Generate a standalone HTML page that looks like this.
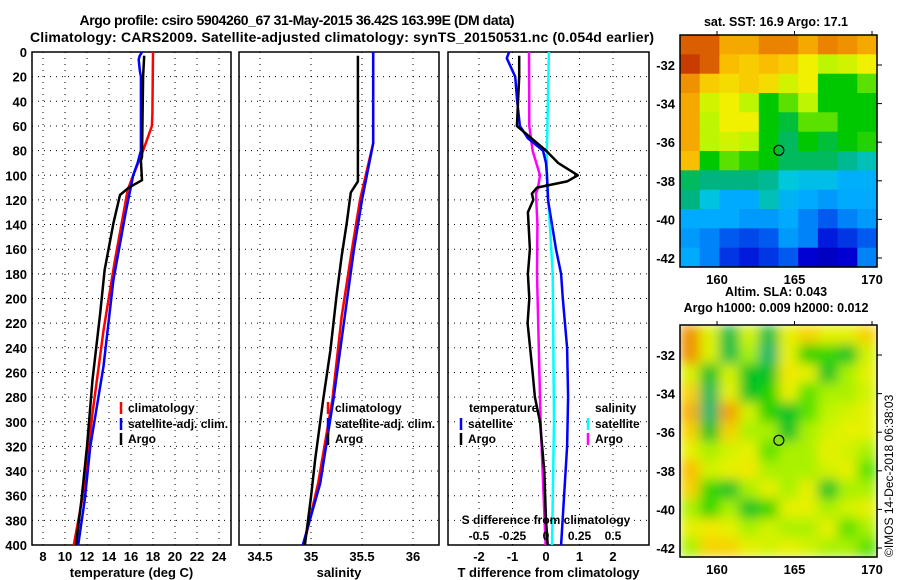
<!DOCTYPE html>
<html><head><meta charset="utf-8"><style>
html,body{margin:0;padding:0;background:#fff;}
svg{display:block;font-family:"Liberation Sans",Arial,sans-serif;font-weight:bold;}
</style></head><body>
<svg id="fig" width="900" height="580" viewBox="0 0 900 580">
<text x="297" y="25" font-size="14" text-anchor="middle" textLength="435">Argo profile: csiro 5904260_67 31-May-2015 36.42S 163.99E (DM data)</text>
<text x="342" y="42" font-size="14" text-anchor="middle" textLength="624">Climatology: CARS2009. Satellite-adjusted climatology: synTS_20150531.nc (0.054d earlier)</text>
<g id="plots"></g>
</svg>
<script>
// ---- data ----
const depthTicks = [0,20,40,60,80,100,120,140,160,180,200,220,240,260,280,300,320,340,360,380,400];
const tTicks = [8,10,12,14,16,18,20,22,24];
const sTicks = [34.5,35,35.5,36];
const dTTicks = [-2,-1,0,1,2];
const dSTicks = [-0.5,-0.25,0,0.25,0.5];
const dSTickLabels = ["-0.5","-0.25","0","0.25","0.5"];

const climT_depth = [0,50,60,70,80,100,112,171,226,293,361,400];
const climT = [18.0,17.95,17.9,17.5,17.1,16.2,15.7,14.5,13.5,12.5,11.6,10.8];
const satT_depth = [0,3,6,15,20,80,90,100,131,185,255,320,363,400];
const satT = [17.0,16.8,16.7,16.8,16.9,16.9,16.6,16.2,15.5,14.4,13.5,12.3,11.8,11.2];
const argoT_depth = [3,20,85,88,104,110,116,139,177,212,266,320,363,400];
const argoT = [17.2,17.1,17.0,16.9,17.0,15.8,15.0,14.4,13.6,13.2,12.5,12.0,11.5,11.0];

const climS_depth = [0,74,120,161,215,282,350,400];
const climS = [35.61,35.61,35.48,35.40,35.30,35.21,35.07,34.93];
const satS_depth = [0,74,120,161,215,282,350,400];
const satS = [35.61,35.61,35.5,35.42,35.33,35.22,35.09,34.92];
const argoS_depth = [3,105,114,139,166,198,242,282,331,361,400];
const argoS = [35.46,35.46,35.39,35.35,35.30,35.25,35.19,35.12,35.04,35.0,34.94];

const dTsat_depth = [0,5,20,40,60,70,80,90,100,120,140,160,180,200,240,280,320,360,400];
const dTsat = [-1.1,-1.17,-0.92,-0.86,-0.78,-0.54,-0.09,0.0,0.03,0.06,0.18,0.3,0.45,0.5,0.63,0.66,0.63,0.54,0.45];
const dTargo_depth = [3,20,60,80,90,100,105,110,115,120,130,160,180,200,220,260,280,300,340,380,400];
const dTargo = [-0.8,-0.8,-0.87,0.0,0.36,0.95,0.63,-0.27,-0.42,-0.38,-0.54,-0.48,-0.54,-0.5,-0.55,-0.4,-0.33,-0.18,-0.05,0.0,0.05];
const dSargo_depth = [0,60,80,100,110,115,140,180,300,400];
const dSargo = [-0.127,-0.125,-0.1,-0.045,-0.06,-0.075,-0.064,-0.067,-0.04,-0.003];
const dSsat_depth = [0,80,100,180,300,400];
const dSsat = [0.022,0.007,0.007,0.05,0.06,0.045];

const sstGrid = [
[0.85,0.85,0.75,0.75,0.8,0.8,0.75,0.8,0.78,0.75],
[0.9,0.85,0.72,0.7,0.72,0.7,0.65,0.6,0.62,0.65],
[0.78,0.7,0.68,0.7,0.68,0.62,0.65,0.5,0.5,0.55],
[0.75,0.62,0.65,0.6,0.5,0.55,0.6,0.5,0.5,0.5],
[0.75,0.6,0.65,0.65,0.5,0.47,0.55,0.55,0.5,0.5],
[0.75,0.6,0.62,0.6,0.5,0.45,0.5,0.47,0.5,0.52],
[0.72,0.5,0.55,0.52,0.5,0.45,0.45,0.45,0.42,0.4],
[0.45,0.43,0.43,0.43,0.42,0.38,0.36,0.36,0.33,0.33],
[0.43,0.37,0.32,0.32,0.4,0.34,0.32,0.3,0.32,0.32],
[0.32,0.32,0.32,0.3,0.3,0.32,0.27,0.22,0.27,0.3],
[0.3,0.27,0.22,0.2,0.22,0.3,0.27,0.15,0.18,0.22],
[0.32,0.27,0.18,0.15,0.18,0.22,0.12,0.1,0.12,0.27]];
const slaGrid = [
[0.78,0.63,0.46,0.62,0.46,0.64,0.69,0.64,0.64,0.69],
[0.78,0.63,0.46,0.59,0.44,0.64,0.52,0.53,0.48,0.62],
[0.63,0.48,0.62,0.48,0.48,0.66,0.64,0.48,0.59,0.64],
[0.69,0.45,0.64,0.48,0.52,0.64,0.55,0.59,0.59,0.62],
[0.74,0.44,0.76,0.62,0.52,0.48,0.55,0.6,0.62,0.64],
[0.69,0.48,0.69,0.59,0.59,0.48,0.59,0.62,0.64,0.64],
[0.64,0.59,0.62,0.64,0.55,0.59,0.59,0.64,0.62,0.59],
[0.72,0.62,0.64,0.66,0.59,0.59,0.59,0.62,0.64,0.55],
[0.69,0.53,0.48,0.59,0.64,0.59,0.64,0.48,0.59,0.59],
[0.59,0.53,0.59,0.48,0.53,0.64,0.64,0.59,0.62,0.64],
[0.64,0.66,0.64,0.59,0.62,0.59,0.59,0.64,0.55,0.59],
[0.59,0.69,0.69,0.64,0.62,0.64,0.62,0.59,0.59,0.55]];
const lonTicks = [160,165,170];
const latTicks = [-32,-34,-36,-38,-40,-42];
const argoLon = 163.99, argoLat = -36.42;

// ---- helpers ----
const NS = "http://www.w3.org/2000/svg";
const root = document.getElementById('plots');
function mk(tag, attrs, parent){const e=document.createElementNS(NS,tag);for(const k in attrs)e.setAttribute(k,attrs[k]);(parent||root).appendChild(e);return e;}
const yTop=52, yBot=545;
const yD = d => yTop + (d/400)*(yBot-yTop);
function linScale(d0,d1,r0,r1){return v=>r0+(v-d0)/(d1-d0)*(r1-r0);}

function panel(name,x0,x1,xs,xt,xlabels,title){
  const g=mk('g',{});
  
  
  depthTicks.forEach(d=>{ if(d>0&&d<400){const l=mk('line',{x1:x0,x2:x1,y1:yD(d),y2:yD(d),stroke:'#000','stroke-width':1,'stroke-dasharray':'1,5'},g);
    
    }});
  xt.forEach((v,i)=>{const x=xs(v);
    const l=mk('line',{x1:x,x2:x,y1:yTop,y2:yBot,stroke:'#000','stroke-width':1,'stroke-dasharray':'1,5'},g);
    
    
    const t=mk('text',{x:x,y:561,'font-size':13,'text-anchor':'middle'},g);t.textContent=xlabels[i];
    
    });
  const r=mk('rect',{x:x0,y:yTop,width:x1-x0,height:yBot-yTop,fill:'none',stroke:'#000','stroke-width':1.5},g);
  
  
  const t=mk('text',{x:(x0+x1)/2,y:577,'font-size':13,'text-anchor':'middle'},g);t.textContent=title;
  
  
  return g;
}
function series(g,depths,vals,xs,color,w,name){
  const pts=depths.map((d,i)=>xs(vals[i]).toFixed(1)+','+yD(d).toFixed(1)).join(' ');
  const p=mk('polyline',{points:pts,fill:'none',stroke:color,'stroke-width':w,'stroke-linejoin':'round'},g);
  
  
}
function legend(g,x,y,color,label){
  if(color){const b=mk('line',{x1:x-7,x2:x-7,y1:y-10,y2:y+2,stroke:color,'stroke-width':2.5},g);
    
    }
  const t=mk('text',{x:x,y:y,'font-size':12},g);t.textContent=label;
  
  
}

depthTicks.forEach(d=>{const t=mk('text',{x:27,y:yD(d)+5,'font-size':13,'text-anchor':'end'});t.textContent=d;
  
  });

const xT=linScale(8,24,43,219);
const g1=panel('temperature-panel',32,231,xT,tTicks,tTicks.map(String),'temperature (deg C)');
series(g1,climT_depth,climT,xT,'#f00',2.5,'climatology-temperature-line');
series(g1,satT_depth,satT,xT,'#00f',2.5,'satellite-temperature-line');
series(g1,argoT_depth,argoT,xT,'#000',2.5,'argo-temperature-line');
legend(g1,128,412,'#f00','climatology');legend(g1,128,428,'#00f','satellite-adj. clim.');legend(g1,128,443,'#000','Argo');

const xS=linScale(34.5,36,260,413);
const g2=panel('salinity-panel',239,439,xS,sTicks,['34.5','35','35.5','36'],'salinity');
series(g2,climS_depth,climS,xS,'#f00',2.5,'climatology-salinity-line');
series(g2,satS_depth,satS,xS,'#00f',2.5,'satellite-salinity-line');
series(g2,argoS_depth,argoS,xS,'#000',2.5,'argo-salinity-line');
legend(g2,335,412,'#f00','climatology');legend(g2,335,428,'#00f','satellite-adj. clim.');legend(g2,335,443,'#000','Argo');

const xdT=linScale(-2,2,479,613);
const xdS=linScale(-0.5,0.5,479,613);
const g3=panel('difference-panel',448,649,xdT,dTTicks,dTTicks.map(String),'T difference from climatology');
series(g3,dSsat_depth,dSsat,xdS,'#0ff',2.5,'salinity-satellite-diff-line');
series(g3,dSargo_depth,dSargo,xdS,'#f0f',2.5,'salinity-argo-diff-line');
series(g3,dTsat_depth,dTsat,xdT,'#00f',2.5,'temperature-satellite-diff-line');
series(g3,dTargo_depth,dTargo,xdT,'#000',2.5,'temperature-argo-diff-line');
legend(g3,469,412,null,'temperature');legend(g3,468,428,'#00f','satellite');legend(g3,468,443,'#000','Argo');
legend(g3,595,412,null,'salinity');legend(g3,595,428,'#0ff','satellite');legend(g3,595,443,'#f0f','Argo');
{const t=mk('text',{x:546,y:524,'font-size':12,'text-anchor':'middle'},g3);t.textContent='S difference from climatology';
 
 
 dSTicks.forEach((v,i)=>{const u=mk('text',{x:xdS(v),y:540,'font-size':12,'text-anchor':'middle'},g3);u.textContent=dSTickLabels[i];
  
  });}

const cmStops=[[0,0,0,120],[0.12,0,0,210],[0.22,0,90,240],[0.32,0,170,255],[0.38,0,200,220],[0.43,0,180,130],[0.5,0,200,0],[0.55,90,225,0],[0.6,190,245,0],[0.65,240,240,0],[0.72,250,190,0],[0.8,235,130,0],[0.9,200,60,0],[1,150,0,0]];
function cmap(v){
  for(let i=1;i<cmStops.length;i++){if(v<=cmStops[i][0]){const a=cmStops[i-1],b=cmStops[i],t=(v-a[0])/(b[0]-a[0]);
    return `rgb(${Math.round(a[1]+t*(b[1]-a[1]))},${Math.round(a[2]+t*(b[2]-a[2]))},${Math.round(a[3]+t*(b[3]-a[3]))})`;}}
  return 'rgb(150,0,0)';
}
function map(name,top,grid,blur,title1,title2){
  const x0=680,x1=877,bot=top+232;
  const g=mk('g',{});
  
  
  const lonS=linScale(160,170,717,872);
  const latS=linScale(-32,-42,top+30,top+223);
  const rows=grid.length, cols=grid[0].length, cw=(x1-x0)/cols, ch=(bot-top)/rows;
  const cg=mk('g',blur?{filter:'url(#blr)'}:{},g);
  grid.forEach((row,i)=>row.forEach((v,j)=>{
    const c=mk('rect',{x:(x0+j*cw).toFixed(1),y:(top+i*ch).toFixed(1),width:(cw+0.6).toFixed(1),height:(ch+0.6).toFixed(1),fill:cmap(v)},cg);
    
    
  }));
  const fr=mk('rect',{x:x0,y:top,width:x1-x0,height:bot-top,fill:'none',stroke:'#000','stroke-width':1.5},g);
  
  
  lonTicks.forEach(v=>{const x=lonS(v);
    mk('line',{x1:x,x2:x,y1:top-4,y2:top,stroke:'#000'},g);
    const t=mk('text',{x:x,y:bot+17,'font-size':13,'text-anchor':'middle'},g);t.textContent=v;
    
    });
  latTicks.forEach(v=>{const y=latS(v);
    mk('line',{x1:x1,x2:x1+5,y1:y,y2:y,stroke:'#000'},g);
    const t=mk('text',{x:675,y:y+5,'font-size':13,'text-anchor':'end'},g);t.textContent=v;
    
    });
  const m=mk('circle',{cx:lonS(argoLon),cy:latS(argoLat),r:5,fill:'none',stroke:'#000','stroke-width':1.2},g);
  
  
  const t1=mk('text',{x:776,y:title2?top-29:top-9,'font-size':12.5,'text-anchor':'middle'},g);t1.textContent=title1;
  
  
  if(title2){const t2=mk('text',{x:776,y:top-13,'font-size':12.5,'text-anchor':'middle'},g);t2.textContent=title2;
    
    }
}
const defs=mk('defs',{});
const f=mk('filter',{id:'blr',x:'0',y:'0',width:'1',height:'1'},defs);
mk('feGaussianBlur',{stdDeviation:'6',edgeMode:'duplicate'},f);
map('sst-map',35,sstGrid,false,'sat. SST: 16.9 Argo: 17.1',null);
map('sla-map',325,slaGrid,true,'Altim. SLA: 0.043','Argo h1000: 0.009 h2000: 0.012');
{const t=mk('text',{x:0,y:0,'font-size':12,'font-weight':'normal',transform:'translate(893,557) rotate(-90)'});t.textContent='©IMOS 14-Dec-2018 06:38:03';
 
 }
</script>
</body></html>
